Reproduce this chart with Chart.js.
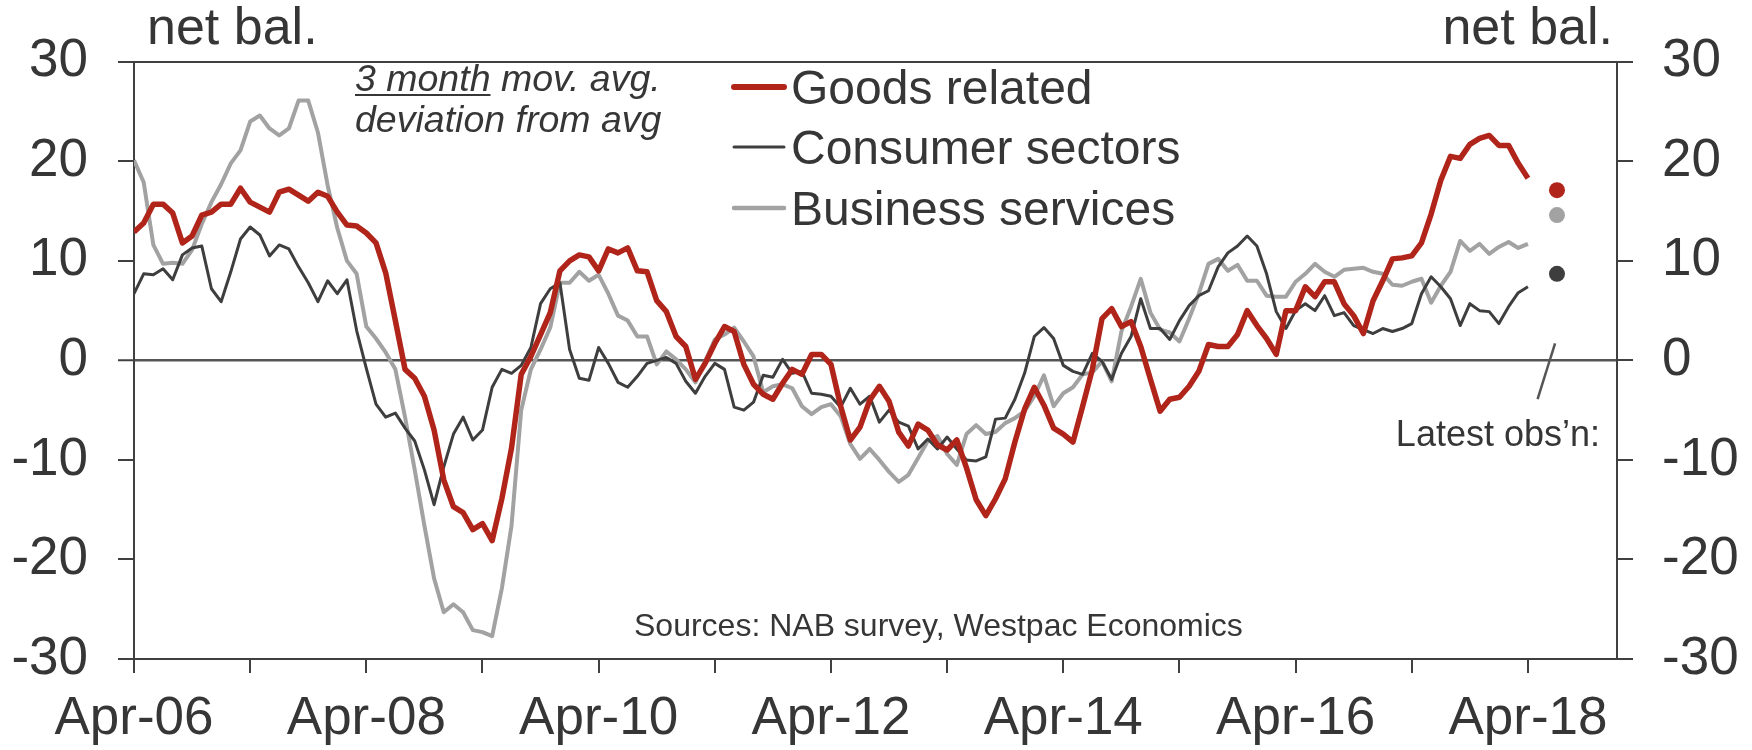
<!DOCTYPE html>
<html>
<head>
<meta charset="utf-8">
<title>Business conditions by sector</title>
<script src="https://cdn.jsdelivr.net/npm/chart.js@4.4.1/dist/chart.umd.min.js"></script>
<style>
    html, body { margin: 0; padding: 0; background: #ffffff; }
    #wrap { width: 1752px; height: 750px; }
</style>
</head>
<body>
<div id="wrap"><canvas id="chart-sectors" width="1752" height="750"></canvas></div>
<script>
// monthly, Apr-06 to Apr-18: 3 month moving average, deviation from average (net bal.)
const goodsRelated = [
    12.9, 13.8, 15.7, 15.7, 14.8, 11.8, 12.5, 14.6, 14.9, 15.7, 15.7, 17.3,
    15.9, 15.4, 14.9, 16.9, 17.2, 16.6, 16.0, 16.9, 16.5, 14.9, 13.6, 13.5,
    12.8, 11.8, 8.8, 4.0, -0.9, -1.8, -3.6, -7.0, -12.0, -14.7, -15.3, -17.0,
    -16.4, -18.1, -13.9, -8.8, -1.4, 0.4, 2.6, 4.8, 9.0, 10.0, 10.6, 10.4,
    9.0, 11.2, 10.8, 11.3, 9.0, 8.9, 6.0, 4.9, 2.4, 1.4, -1.9, -0.3,
    1.7, 3.4, 2.9, -0.4, -2.4, -3.4, -3.9, -2.3, -0.9, -1.4, 0.6, 0.6,
    -0.4, -4.6, -8.0, -6.7, -4.0, -2.6, -4.1, -7.2, -8.6, -6.4, -7.0, -8.5,
    -9.0, -8.0, -10.8, -14.0, -15.6, -13.9, -11.9, -8.2, -4.9, -2.7, -4.5, -6.8,
    -7.4, -8.2, -4.6, -0.9, 4.2, 5.2, 3.4, 3.9, 1.4, -1.9, -5.1, -3.9,
    -3.7, -2.6, -1.1, 1.6, 1.4, 1.4, 2.6, 5.0, 3.5, 2.2, 0.6, 5.0,
    5.0, 7.4, 6.4, 7.9, 7.9, 5.7, 4.5, 2.7, 6.0, 8.0, 10.2, 10.3,
    10.5, 11.8, 14.7, 18.1, 20.5, 20.3, 21.7, 22.3, 22.6, 21.6, 21.6, 19.8,
    18.3
];
const consumerSectors = [
    6.7, 8.7, 8.6, 9.2, 8.1, 10.6, 11.3, 11.5, 7.2, 5.9, 8.9, 12.2,
    13.4, 12.6, 10.5, 11.6, 11.2, 9.4, 7.8, 5.9, 8.0, 6.7, 8.1, 3.0,
    -0.8, -4.4, -5.7, -5.3, -6.8, -8.1, -11.0, -14.5, -10.7, -7.4, -5.7, -8.0,
    -7.0, -2.7, -0.9, -1.3, -0.5, 1.3, 5.7, 7.2, 7.8, 1.1, -1.8, -2.0,
    1.3, -0.3, -2.2, -2.7, -1.6, -0.3, 0.0, 0.3, -0.3, -2.1, -3.3, -1.6,
    -0.3, -0.9, -4.7, -5.0, -4.2, -1.5, -1.7, 0.1, -1.3, -1.1, -3.3, -3.4,
    -3.6, -4.7, -2.8, -4.4, -3.6, -6.2, -5.0, -6.2, -6.6, -8.9, -7.9, -8.9,
    -7.7, -8.9, -10.0, -10.1, -9.7, -5.9, -5.8, -3.9, -1.3, 2.4, 3.3, 2.2,
    -0.5, -1.1, -1.4, 0.7, -0.1, -1.9, 0.7, 2.4, 6.2, 3.2, 3.2, 2.1,
    4.0, 5.5, 6.5, 7.0, 9.4, 10.8, 11.5, 12.5, 11.5, 8.7, 4.9, 3.2,
    5.0, 5.7, 5.0, 6.5, 4.5, 4.8, 3.5, 3.1, 2.7, 3.2, 2.9, 3.2,
    3.7, 6.7, 8.4, 7.4, 6.2, 3.5, 5.7, 5.0, 4.9, 3.7, 5.4, 6.8,
    7.4
];
const businessServices = [
    20.1, 17.9, 11.6, 9.7, 9.8, 9.7, 11.1, 13.7, 15.9, 17.7, 19.8, 21.1,
    24.0, 24.6, 23.3, 22.6, 23.3, 26.1, 26.1, 22.9, 17.6, 13.3, 10.0, 8.7,
    3.4, 2.2, 0.8, -0.9, -5.7, -11.0, -16.6, -21.9, -25.3, -24.5, -25.3, -27.1,
    -27.3, -27.7, -22.9, -16.6, -5.0, -0.9, 1.1, 3.3, 7.8, 7.8, 8.9, 8.0,
    8.6, 6.7, 4.5, 4.0, 2.4, 2.4, -0.4, 0.9, 0.1, -0.9, -2.2, -0.1,
    2.1, 2.6, 3.3, 1.9, 0.4, -3.2, -2.6, -2.4, -2.8, -4.6, -5.4, -4.7,
    -4.4, -5.6, -8.4, -9.9, -8.9, -10.0, -11.2, -12.2, -11.5, -9.8, -8.1, -7.6,
    -9.4, -10.5, -7.4, -6.5, -7.4, -7.2, -6.3, -5.8, -5.1, -3.6, -1.5, -4.6,
    -3.3, -2.7, -1.4, -1.2, -0.1, -2.1, 2.9, 5.4, 8.2, 4.8, 3.1, 2.8,
    1.9, 4.2, 6.7, 9.7, 10.2, 9.0, 9.6, 8.0, 8.0, 6.5, 6.4, 6.4,
    7.9, 8.7, 9.7, 8.9, 8.4, 9.1, 9.2, 9.3, 8.9, 8.7, 7.6, 7.5,
    7.9, 8.2, 5.8, 7.5, 8.9, 12.0, 11.0, 11.7, 10.7, 11.4, 11.9, 11.3,
    11.7
];

// latest observation, shown as dots to the right of the series
const latestMonth = 147;
const latestGoods = 17.1;
const latestBusiness = 14.6;
const latestConsumer = 8.7;

// x axis counts months from Apr-06
const monthTicks = [0, 12, 24, 36, 48, 60, 72, 84, 96, 108, 120, 132, 144];
const monthLabels = ['Apr-06', '', 'Apr-08', '', 'Apr-10', '', 'Apr-12', '', 'Apr-14', '', 'Apr-16', '', 'Apr-18'];
const xMax = 153.2;
const yMin = -30;
const yMax = 30;

const FONT = "'Liberation Sans', Arial, Helvetica, sans-serif";
const INK = '#363636';
const AXIS = '#404040';
const RED = '#b0241a';
const DARK = '#3e3e3e';
const GREY = '#a2a2a2';

document.addEventListener('DOMContentLoaded', function() {
    createChart();
});

function toPoints(values) {
    return values.map((v, i) => ({ x: i, y: v }));
}

function lineSet(label, values, color, width) {
    return {
        label: label,
        data: toPoints(values),
        borderColor: color,
        backgroundColor: color,
        borderWidth: width,
        borderJoinStyle: 'round',
        pointRadius: 0,
        tension: 0,
        fill: false
    };
}

function dotSet(label, value, color) {
    return {
        label: label,
        data: [{ x: latestMonth, y: value }],
        showLine: false,
        pointRadius: 8,
        pointBorderWidth: 0,
        pointBackgroundColor: color,
        borderColor: color
    };
}

// titles, note, legend, break mark and source line
const chartText = {
    id: 'chartText',
    afterDraw(chart) {
        const ctx = chart.ctx;
        const xs = chart.scales.x;
        const ys = chart.scales.y;
        ctx.save();
        ctx.fillStyle = INK;
        ctx.textBaseline = 'alphabetic';

        ctx.font = '52px ' + FONT;
        ctx.textAlign = 'left';
        ctx.fillText('net bal.', 147, 44);
        ctx.textAlign = 'right';
        ctx.fillText('net bal.', 1613, 44);

        // note, "3 month" underlined
        ctx.font = 'italic 37.5px ' + FONT;
        ctx.textAlign = 'left';
        const first = '3 month';
        ctx.fillText(first, 355, 91);
        const w = ctx.measureText(first).width;
        ctx.fillText(' mov. avg.', 355 + w, 91);
        ctx.strokeStyle = INK;
        ctx.lineWidth = 2;
        ctx.beginPath();
        ctx.moveTo(355, 95);
        ctx.lineTo(355 + w, 95);
        ctx.stroke();
        ctx.fillText('deviation from avg', 355, 132);

        // legend for the three series
        const rows = [87, 147, 208];
        chart.data.datasets.slice(0, 3).forEach((ds, i) => {
            ctx.strokeStyle = ds.borderColor;
            ctx.lineWidth = i === 0 ? 6 : (i === 1 ? 3 : 4.5);
            ctx.lineCap = 'round';
            ctx.beginPath();
            ctx.moveTo(734, rows[i]);
            ctx.lineTo(784, rows[i]);
            ctx.stroke();
            ctx.font = '48px ' + FONT;
            ctx.fillStyle = INK;
            ctx.fillText(ds.label, 791, rows[i] + 17);
        });

        // break in the axis before the latest observation
        ctx.strokeStyle = '#555555';
        ctx.lineWidth = 2.5;
        ctx.lineCap = 'butt';
        ctx.beginPath();
        ctx.moveTo(xs.getPixelForValue(145.0), ys.getPixelForValue(-3.9));
        ctx.lineTo(xs.getPixelForValue(146.8), ys.getPixelForValue(1.7));
        ctx.stroke();

        ctx.font = '36px ' + FONT;
        ctx.textAlign = 'right';
        ctx.fillText('Latest obs\u2019n:', 1600, 446);

        ctx.font = '32px ' + FONT;
        ctx.textAlign = 'left';
        ctx.fillText('Sources: NAB survey, Westpac Economics', 634, 636);
        ctx.restore();
    }
};

function yGrid(context) {
    const v = context.tick.value;
    if (v === 0) return '#555555';
    if (v === yMin || v === yMax) return AXIS;
    return 'rgba(0,0,0,0)';
}

function createChart() {
    const ctx = document.getElementById('chart-sectors');

    new Chart(ctx, {
        type: 'line',
        data: {
            datasets: [
                lineSet('Goods related', goodsRelated, RED, 5.5),
                lineSet('Consumer sectors', consumerSectors, DARK, 3),
                lineSet('Business services', businessServices, GREY, 4),
                dotSet('Goods related (latest)', latestGoods, RED),
                dotSet('Business services (latest)', latestBusiness, GREY),
                dotSet('Consumer sectors (latest)', latestConsumer, DARK)
            ]
        },
        options: {
            responsive: false,
            devicePixelRatio: 1,
            animation: false,
            layout: {
                padding: { top: 56, left: 0, right: 0, bottom: 0 }
            },
            plugins: {
                legend: { display: false },
                tooltip: { enabled: false }
            },
            scales: {
                x: {
                    type: 'linear',
                    position: 'bottom',
                    min: 0,
                    max: xMax,
                    afterBuildTicks: function(scale) {
                        scale.ticks = monthTicks.map(v => ({ value: v }));
                    },
                    afterFit: function(scale) {
                        scale.height = 91;
                    },
                    ticks: {
                        autoSkip: false,
                        maxRotation: 0,
                        padding: 15,
                        color: INK,
                        font: { family: FONT, size: 53 },
                        callback: function(value, index) {
                            return monthLabels[index];
                        }
                    },
                    grid: {
                        drawOnChartArea: false,
                        drawTicks: true,
                        tickLength: 14,
                        color: AXIS,
                        lineWidth: 2
                    },
                    border: { display: true, color: AXIS, width: 2 }
                },
                y: {
                    position: 'left',
                    min: yMin,
                    max: yMax,
                    afterFit: function(scale) {
                        scale.width = 134;
                    },
                    ticks: {
                        stepSize: 10,
                        padding: 30,
                        color: INK,
                        font: { family: FONT, size: 53 }
                    },
                    grid: {
                        color: yGrid,
                        lineWidth: function(context) {
                            return context.tick.value === 0 ? 2.5 : 2;
                        },
                        tickColor: AXIS,
                        tickWidth: 2,
                        tickLength: 16
                    },
                    border: { display: true, color: AXIS, width: 2 }
                },
                y2: {
                    position: 'right',
                    min: yMin,
                    max: yMax,
                    afterFit: function(scale) {
                        scale.width = 135;
                    },
                    ticks: {
                        stepSize: 10,
                        padding: 29,
                        color: INK,
                        font: { family: FONT, size: 53 }
                    },
                    grid: {
                        drawOnChartArea: false,
                        color: AXIS,
                        lineWidth: 2,
                        tickLength: 16
                    },
                    border: { display: true, color: AXIS, width: 2 }
                }
            }
        },
        plugins: [chartText]
    });
}
</script>
</body>
</html>
